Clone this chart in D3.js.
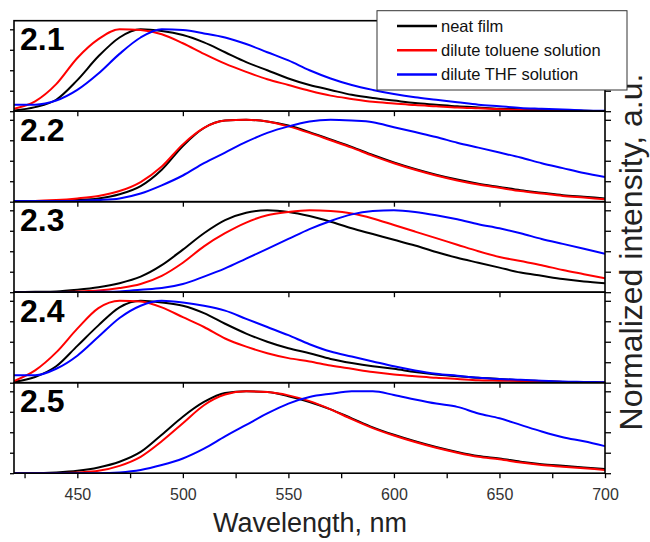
<!DOCTYPE html>
<html><head><meta charset="utf-8">
<script src="https://cdn.jsdelivr.net/npm/d3@7"></script>
<style>body{margin:0;background:#fff}svg{display:block;font-family:Arial,"Liberation Sans",sans-serif}</style>
</head><body><svg id="c" width="650" height="542"></svg>
<script>
const wavelengths = [420,430,440,450,460,470,480,490,500,510,520,530,540,550,560,570,580,590,600,610,620,630,640,650,660,670,680,690,700];
const panelLabels = ["2.1","2.2","2.3","2.4","2.5"];
const seriesNames = ["neat film","dilute toluene solution","dilute THF solution"];
const xTicksMajor = [450,500,550,600,650,700];
const xTicksMinor = [425,475,525,575,625,675];
const yTicks = [0,0.25,0.5,0.75,1.0];

const p21_film = [0.01,0.05,0.14,0.38,0.67,0.9,1.0,0.98,0.93,0.84,0.72,0.6,0.5,0.4,0.32,0.26,0.2,0.16,0.13,0.1,0.08,0.06,0.045,0.03,0.025,0.02,0.01,0.005,0];
const p21_toluene = [0.03,0.12,0.33,0.65,0.88,1.0,0.99,0.94,0.83,0.7,0.58,0.48,0.39,0.32,0.25,0.19,0.15,0.115,0.095,0.075,0.06,0.045,0.035,0.025,0.015,0.01,0.005,0,0];
const p21_thf = [0.08,0.08,0.13,0.26,0.46,0.7,0.9,1.0,0.99,0.95,0.9,0.82,0.72,0.62,0.5,0.4,0.32,0.26,0.21,0.17,0.14,0.11,0.08,0.06,0.04,0.03,0.02,0.01,0.005];

const p22_film = [0.01,0.01,0.01,0.02,0.04,0.09,0.19,0.39,0.68,0.9,0.99,1.0,0.98,0.93,0.85,0.76,0.67,0.57,0.48,0.4,0.33,0.27,0.22,0.18,0.14,0.11,0.08,0.06,0.04];
const p22_toluene = [0.01,0.01,0.02,0.04,0.07,0.13,0.24,0.43,0.7,0.9,0.99,1.0,0.98,0.92,0.84,0.75,0.66,0.56,0.47,0.39,0.32,0.26,0.21,0.17,0.13,0.1,0.07,0.05,0.03];
const p22_thf = [0.01,0.01,0.01,0.01,0.02,0.04,0.1,0.2,0.32,0.47,0.6,0.73,0.84,0.92,0.98,1.0,0.99,0.97,0.91,0.85,0.79,0.72,0.66,0.6,0.54,0.47,0.41,0.35,0.3];

const p23_film = [0,0.005,0.01,0.03,0.06,0.11,0.19,0.33,0.52,0.72,0.88,0.97,1.0,0.98,0.93,0.86,0.78,0.71,0.64,0.57,0.49,0.42,0.36,0.3,0.24,0.2,0.16,0.13,0.11];
const p23_toluene = [0,0,0,0.01,0.02,0.05,0.1,0.2,0.36,0.56,0.72,0.85,0.94,0.98,1.0,0.99,0.96,0.9,0.82,0.74,0.66,0.58,0.5,0.43,0.38,0.33,0.27,0.22,0.17];
const p23_thf = [0,0,0,0,0.005,0.01,0.03,0.05,0.1,0.19,0.29,0.41,0.53,0.65,0.77,0.87,0.95,0.99,1.0,0.98,0.94,0.89,0.83,0.78,0.72,0.65,0.59,0.53,0.47];

const p24_film = [0.01,0.07,0.2,0.45,0.7,0.92,1.0,0.98,0.94,0.85,0.72,0.6,0.5,0.42,0.36,0.29,0.24,0.2,0.17,0.13,0.1,0.08,0.06,0.045,0.03,0.02,0.01,0.005,0];
const p24_toluene = [0.02,0.15,0.37,0.66,0.91,1.0,0.99,0.92,0.8,0.68,0.54,0.44,0.36,0.3,0.26,0.21,0.17,0.13,0.1,0.08,0.06,0.045,0.03,0.025,0.02,0.015,0.01,0.005,0];
const p24_thf = [0.09,0.09,0.17,0.33,0.56,0.79,0.94,1.0,0.98,0.94,0.88,0.78,0.68,0.58,0.47,0.38,0.32,0.26,0.2,0.15,0.11,0.085,0.06,0.045,0.035,0.025,0.015,0.01,0.005];

const p25_film = [0,0,0.01,0.03,0.07,0.14,0.26,0.47,0.69,0.87,0.98,1.0,0.99,0.94,0.87,0.78,0.67,0.56,0.47,0.39,0.32,0.26,0.21,0.18,0.14,0.11,0.09,0.07,0.05];
const p25_toluene = [0,0,0,0.01,0.03,0.09,0.2,0.39,0.61,0.83,0.96,1.0,0.99,0.95,0.88,0.78,0.66,0.55,0.46,0.38,0.31,0.25,0.2,0.17,0.13,0.1,0.08,0.06,0.04];
const p25_thf = [0,0,0,0,0,0.01,0.04,0.1,0.18,0.3,0.45,0.59,0.73,0.85,0.93,0.97,1.0,1.0,0.955,0.9,0.85,0.81,0.73,0.67,0.59,0.51,0.44,0.39,0.33];

const panels = [
  [p21_film,p21_toluene,p21_thf],
  [p22_film,p22_toluene,p22_thf],
  [p23_film,p23_toluene,p23_thf],
  [p24_film,p24_toluene,p24_thf],
  [p25_film,p25_toluene,p25_thf]
];
const colors = ["#000000","#ff0000","#0000ff"];

const svg = d3.select("#c");
const left = 14, right = 605, top0 = 20.7, ph = 90.5;
const x = d3.scaleLinear().domain([420,700]).range([left,right]);

svg.append("defs").selectAll("clipPath").data(panels).join("clipPath")
  .attr("id",(d,i)=>"clip"+i)
  .append("rect").attr("x",left).attr("y",(d,i)=>top0+i*ph).attr("width",right-left).attr("height",ph);

panels.forEach((series,i)=>{
  const t = top0 + i*ph, b = t + ph;
  const y = d3.scaleLinear().domain([0,1.105]).range([b,t]);
  const g = svg.append("g");
  const line = d3.line().x((d,k)=>x(wavelengths[k])).y(d=>y(d)).curve(d3.curveMonotoneX);
  const cg = g.append("g").attr("clip-path","url(#clip"+i+")");
  series.forEach((s,j)=>{
    cg.append("path").datum(s).attr("d",line).attr("fill","none")
      .attr("stroke",colors[j]).attr("stroke-width",2);
  });
  g.append("g").attr("transform",`translate(${left},0)`)
    .call(d3.axisLeft(y).tickValues(yTicks).tickSize(4).tickFormat(""));
  g.append("g").attr("transform",`translate(${right},0)`)
    .call(d3.axisRight(y).tickValues(yTicks).tickSize(6).tickFormat(""));
  if (i < 4) {
    g.append("g").attr("transform",`translate(0,${b})`)
      .call(d3.axisBottom(x).tickValues([450,500,550,600,650]).tickSize(5).tickFormat(""));
  } else {
    g.append("g").attr("transform",`translate(0,${b})`)
      .call(d3.axisBottom(x).tickValues(xTicksMinor).tickSize(5).tickFormat(""));
    const ba = g.append("g").attr("transform",`translate(0,${b})`)
      .call(d3.axisBottom(x).tickValues(xTicksMajor).tickSize(5).tickPadding(10).tickFormat(d3.format("d")));
    ba.selectAll("text").attr("font-size",16).attr("fill","#333").attr("font-family","Arial, 'Liberation Sans', sans-serif");
  }
  g.selectAll(".domain").remove();
  g.selectAll(".tick line").attr("stroke","#000").attr("stroke-width",1.3);
  g.append("rect").attr("x",left).attr("y",t).attr("width",right-left).attr("height",ph)
    .attr("fill","none").attr("stroke","#000").attr("stroke-width",1.6);
  g.append("text").attr("x",20).attr("y",t+29.5).text(panelLabels[i])
    .attr("font-size",32).attr("font-weight","bold").attr("fill","#000");
});

svg.append("text").attr("x",310).attr("y",532).attr("text-anchor","middle")
  .attr("font-size",27).attr("fill","#222").text("Wavelength, nm");
svg.append("text").attr("transform","translate(642,252) rotate(-90)").attr("text-anchor","middle")
  .attr("font-size",32).attr("fill","#222").text("Normalized intensity, a.u.");

const lg = svg.append("g");
lg.append("rect").attr("x",377).attr("y",10.7).attr("width",250).attr("height",79.3)
  .attr("fill","#fff").attr("stroke","#333").attr("stroke-width",1);
seriesNames.forEach((n,j)=>{
  const yy = 26 + j*24.3;
  lg.append("line").attr("x1",397).attr("x2",437).attr("y1",yy).attr("y2",yy)
    .attr("stroke",colors[j]).attr("stroke-width",2.5);
  lg.append("text").attr("x",441).attr("y",yy).attr("dy","0.35em")
    .attr("font-size",16.5).attr("fill","#111").text(n);
});
</script></body></html>
